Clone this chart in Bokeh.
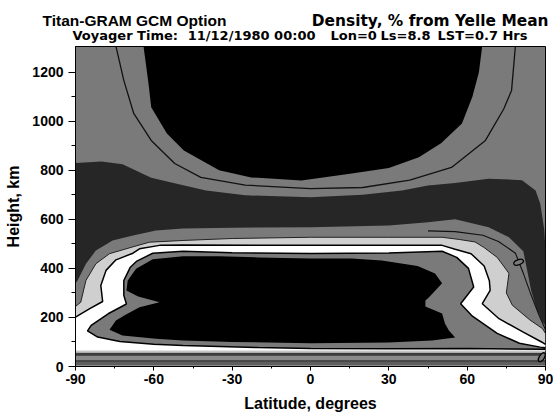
from bokeh.plotting import figure
from bokeh.models import Range1d, FixedTicker
from bokeh.layouts import column
from bokeh.core.properties import value
from bokeh.embed import file_html
from bokeh.resources import INLINE

# ---------------- texts ----------------
title_left = "Titan-GRAM GCM Option"
title_right = "Density, % from Yelle Mean"
sub_parts = ["Voyager Time:", "11/12/1980 00:00", "Lon=0", "Ls=8.8", "LST=0.7 Hrs"]
x_title = "Latitude, degrees"
y_title = "Height, km"

# ---------------- axes ----------------
lat_ticks = [-90, -60, -30, 0, 30, 60, 90]
lat_minor = [-75, -45, -15, 15, 45, 75]
lat_labels = ["-90", "-60", "-30", "0", "30", "60", "90"]
h_ticks = [0, 200, 400, 600, 800, 1000, 1200]
h_minor = [100, 300, 500, 700, 900, 1100]
h_labels = ["0", "200", "400", "600", "800", "1000", "1200"]
h_top = 1305

# ---------------- contour bands (latitude deg, height km) ----------------
top_black_lat = [-64, -62, -61, -55, -48.5, -35, -22.7, -3.5, 15.8, 30, 41.5, 50, 58, 62, 64.5, 65.8]
top_black_h = [1310, 1150, 1057, 950, 881, 800, 771, 759, 787, 810, 853, 910, 991, 1100, 1200, 1310]
top_ring_lat = [-74.6, -71.5, -67.7, -61, -52, -42, -25, 0, 20, 38, 54, 67, 74, 77, 78.5]
top_ring_h = [1310, 1167, 1032, 922, 828, 771, 740, 725, 730, 760, 812, 922, 1050, 1126, 1310]
dark_lat = [-90, -80, -72, -61, -50, -40, -25, 0, 20, 35, 45, 55.4, 68.2, 81, 86.2, 88, 89.5, 90,
            90, 88.7, 86.5, 84.5, 83, 81.5, 76, 68.2, 55.4, 45, 30, 0, -30, -48.8, -59.2, -68,
            -75.8, -82.2, -86, -89.2, -90]
dark_h = [830, 836, 825, 770, 742, 718, 698, 690, 700, 718, 738, 748, 766, 760, 718, 664, 560, 480,
          165, 185, 240, 310, 392, 470, 527, 568, 600, 588, 575, 568, 566, 563, 555, 534,
          514, 473, 419, 351, 340]
outer_line_lat = [45, 55.4, 66, 72, 78.5, 81.5, 84.2, 87.5, 90]
outer_line_h = [553, 550, 535, 510, 462, 380, 300, 210, 150]
light_lat = [-90, -88, -86, -82.2, -77, -68, -61.7, -48.8, -30, 0, 30, 50.4, 57, 63, 66.5, 71.5,
             76, 75, 77.3, 84, 88.8, 90]
light_h = [245, 262, 351, 419, 460, 488, 507, 514, 522, 527, 527, 527, 518, 508, 485, 445,
           380, 300, 250, 190, 155, 135]
white_lat = [-90, -84.7, -79.6, -80.3, -78.3, -74.5, -68, -65.5, -57.8, -48.8, 0, 50.4, 55.4, 61.5,
             66.5, 68.5, 68.8, 65.8, 72.2, 81.5, 88.5, 90]
white_h = [201, 235, 265, 330, 392, 435, 462, 480, 494, 496, 494, 494, 478, 460,
           410, 350, 310, 256, 195, 140, 100, 90]
inner_lat = [-48.8, -60, -73, -81.5, -85.4, -84, -77.5, -70.5, -71.5, -71.5, -69, -66.5, -60.4, -48.8,
             -30, 0, 30, 50.4, 56, 60.5, 62.5, 57.5, 62, 71.5, 80, 88, 90, 90, 60, 30, 0, -20, -48.8]
inner_h = [86, 91, 102, 120, 145, 168, 215, 255, 290, 350, 405, 430, 462, 470,
           464, 461, 463, 470, 445, 400, 324, 256, 205, 135, 95, 79, 76, 70, 73, 72, 73, 77, 86]
core_lat = [-35, -48.8, -60.4, -66.8, -70, -70.5, -66, -57.8, -65.5, -71, -74.5, -77, -72, -59.2,
            -48.8, -30, 0, 30, 46.5, 55.4, 53, 51.5, 50.4, 44, 44, 45.4, 50.4, 47.7, 41, 27.3,
            15.8, 0, -20]
core_h = [450, 450, 437, 399, 351, 310, 285, 262, 242, 210, 188, 150, 126, 113,
          106, 100, 95, 98, 106, 118, 147, 175, 216, 245, 269, 282, 340, 379, 410, 432,
          440, 440, 445]
stripe_lo = [0, 6, 20, 25, 44, 56]
stripe_hi = [6, 20, 25, 44, 56, 64]
blob_lat = [79.7, 88.6]
blob_h = [425, 38]

# ---------------- styles ----------------
C_GRAY = "#7a7a7a"
C_DARK = "#262626"
C_LIGHT = "#cfcfcf"
C_WHITE = "#ffffff"
C_BLACK = "#000000"
stripe_colors = ["#8c8c8c", "#5e5e5e", "#1e1e1e", "#8a8a8a", "#3c3c3c", "#c4c4c4"]

# ---------------- header (titles) ----------------
head = figure(width=553, height=46, x_range=Range1d(0, 553), y_range=Range1d(46, 0),
              output_backend="svg", toolbar_location=None, title=None,
              x_axis_type=None, y_axis_type=None,
              min_border_left=0, min_border_right=0, min_border_top=0, min_border_bottom=0)
head.grid.visible = False
head.outline_line_color = None
head.background_fill_color = "white"
head.border_fill_color = "white"
head.frame_align = False

def htext(x, y, s, font, size, align="left"):
    head.text(x=[x], y=[y], text=[s], text_font=value(font), text_font_style=value("bold"),
              text_font_size=value(size), text_align=value(align),
              text_baseline=value("alphabetic"), text_color="black")

htext(42, 20, title_left, "Liberation Sans", "15.5px")
htext(548, 20, title_right, "DejaVu Sans", "15.4px", align="right")
htext(72, 35, sub_parts[0], "DejaVu Sans", "13px")
htext(315, 35, sub_parts[1], "DejaVu Sans", "13px", align="right")
htext(330, 35, sub_parts[2], "DejaVu Sans", "13px")
htext(380, 35, sub_parts[3], "DejaVu Sans", "13px")
htext(437, 35, sub_parts[4], "DejaVu Sans", "13px")

# ---------------- main plot ----------------
p = figure(width=553, height=370, x_range=Range1d(-90, 90), y_range=Range1d(0, h_top),
           output_backend="svg", toolbar_location=None, title=None,
           min_border_left=75, min_border_right=8, min_border_top=0, min_border_bottom=50,
           background_fill_color=C_GRAY, border_fill_color="white")
p.frame_align = False
p.grid.visible = False
p.outline_line_color = "black"
p.outline_line_width = 1

base = stripe_hi[-1]

p.patch(top_black_lat, top_black_h, fill_color=C_BLACK, line_color=None)
p.patch(dark_lat, dark_h, fill_color=C_DARK, line_color=None)
p.patch([-90] + light_lat + [90, 90, -90], [base] + light_h + [light_h[-1], base, base],
        fill_color=C_LIGHT, line_color=None)
p.patch([-90] + white_lat + [90, 90, -90], [base] + white_h + [white_h[-1], base, base],
        fill_color=C_WHITE, line_color=None)
p.patch(inner_lat, inner_h, fill_color=C_GRAY, line_color=None)
p.patch(core_lat, core_h, fill_color=C_BLACK, line_color=None)
p.quad(left=[-90] * len(stripe_lo), right=[90] * len(stripe_lo), bottom=stripe_lo, top=stripe_hi,
       fill_color=stripe_colors, line_color=None)

p.line(top_ring_lat, top_ring_h, line_color="#111111", line_width=1.3)
p.line(outer_line_lat, outer_line_h, line_color="#111111", line_width=1.1)
p.line(light_lat, light_h, line_color="#222222", line_width=1.0)
p.line(white_lat, white_h, line_color="#000000", line_width=1.5)
p.line(inner_lat, inner_h, line_color="#000000", line_width=1.5)
p.ellipse(blob_lat, blob_h, width=10, height=5, angle=[0.35, 1.0],
          width_units="screen", height_units="screen",
          fill_color=C_GRAY, line_color="black", line_width=1.3)

for ax, ticks, minor, labels in ((p.xaxis, lat_ticks, lat_minor, lat_labels),
                                 (p.yaxis, h_ticks, h_minor, h_labels)):
    ax.ticker = FixedTicker(ticks=ticks, minor_ticks=minor)
    ax.major_label_overrides = dict(zip(ticks, labels))
    ax.axis_line_color = "black"
    ax.major_tick_line_color = "black"
    ax.minor_tick_line_color = "black"
    ax.major_tick_in = 0
    ax.minor_tick_in = 0
    ax.major_label_text_font = "Liberation Sans"
    ax.major_label_text_font_style = "bold"
    ax.major_label_text_font_size = "14px"
    ax.major_label_text_color = "black"
    ax.axis_label_text_font = "Liberation Sans"
    ax.axis_label_text_font_style = "bold"
    ax.axis_label_text_font_size = "16px"
    ax.axis_label_text_color = "black"
p.xaxis.axis_label = x_title
p.yaxis.axis_label = y_title
p.xaxis.major_tick_out = 4
p.xaxis.minor_tick_out = 2
p.xaxis.major_label_standoff = 3
p.xaxis.axis_label_standoff = 8
p.yaxis.major_tick_out = 7
p.yaxis.minor_tick_out = 4
p.yaxis.major_label_standoff = 5
p.yaxis.axis_label_standoff = 7

layout = column(head, p, spacing=0)
open("out.html", "w").write(file_html(layout, INLINE))
